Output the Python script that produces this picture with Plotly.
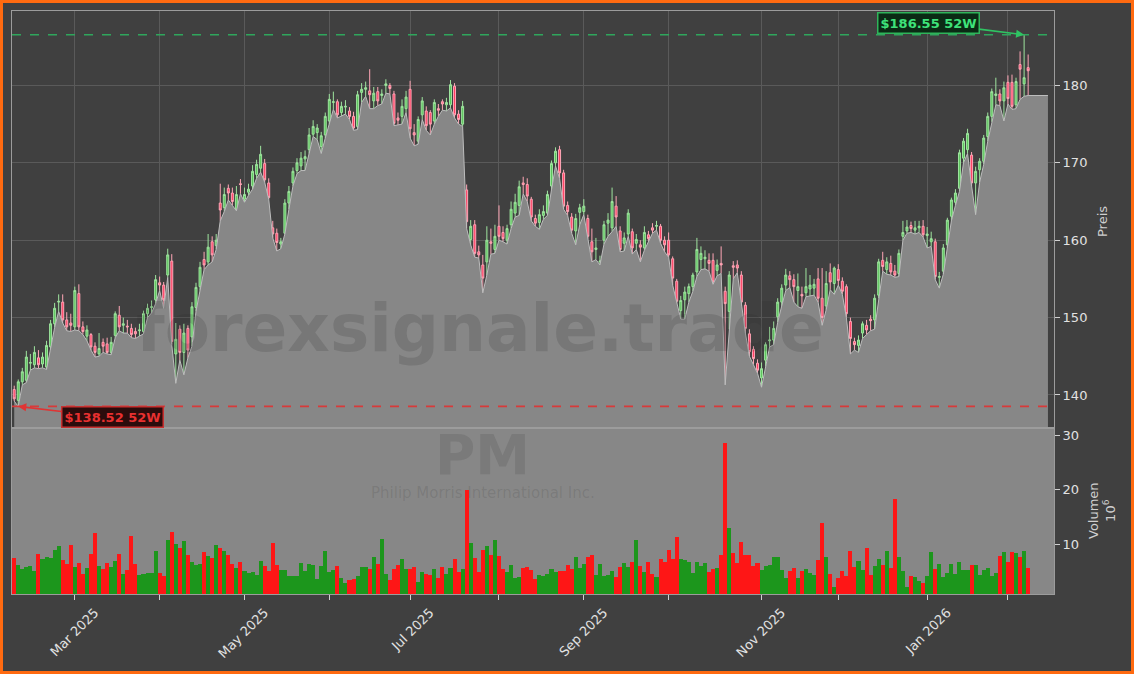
import numpy as np
import pandas as pd
import plotly.graph_objects as go

# ---------------- data ----------------
holidays = ["2025-02-17", "2025-04-18", "2025-05-26", "2025-06-19", "2025-07-04",
            "2025-09-01", "2025-11-27", "2025-12-25", "2026-01-01", "2026-01-19"]
dates = pd.bdate_range("2025-02-07", "2026-02-09", freq="C", holidays=holidays)

opens = [
    140.7, 139.3, 141.7, 141.9, 144.1, 143.9, 144.8, 144.0, 143.6, 146.2,
    149.2, 152.0, 152.0, 149.7, 149.3, 148.8, 153.1, 148.8, 147.6, 147.8,
    146.3, 145.3, 146.8, 146.6, 145.5, 147.7, 150.3, 149.0, 148.9, 148.6,
    148.2, 148.3, 148.2, 150.5, 151.3, 152.3, 154.5, 154.2, 155.5, 157.3,
    145.3, 148.5, 145.5, 148.6, 147.5, 151.3, 154.0, 157.5, 157.2, 159.8,
    159.3, 164.8, 164.2, 166.7, 166.1, 164.0, 167.3, 165.3, 166.2, 167.0,
    168.5, 169.3, 169.9, 167.4, 161.6, 160.9, 159.5, 160.9, 164.8, 167.4,
    169.0, 169.6, 170.5, 171.7, 173.7, 173.9, 172.1, 173.6, 175.4, 177.8,
    177.9, 176.5, 177.2, 176.7, 176.0, 174.7, 179.1, 179.5, 179.3, 178.0,
    179.2, 178.7, 180.0, 180.0, 178.9, 175.8, 176.0, 177.0, 179.5, 173.9,
    172.8, 176.2, 176.7, 176.5, 175.4, 177.0, 177.9, 177.5, 177.5, 179.9,
    176.3, 175.0, 166.5, 160.1, 162.0, 158.5, 156.8, 157.2, 159.8, 158.8,
    161.8, 161.0, 160.0, 162.0, 163.5, 164.5, 167.4, 167.2, 165.3, 162.8,
    162.3, 163.2, 163.5, 167.0, 170.0, 171.7, 168.7, 164.5, 163.0, 161.2,
    163.6, 163.7, 162.8, 159.8, 158.8, 157.2, 160.0, 162.2, 161.6, 164.4,
    161.2, 159.6, 160.8, 161.1, 159.6, 159.4, 159.0, 160.7, 161.6, 161.8,
    161.8, 160.0, 160.0, 157.6, 154.7, 150.9, 152.3, 153.1, 154.0, 155.9,
    157.5, 157.6, 157.4, 157.4, 156.1, 157.0, 153.4, 150.8, 156.7, 156.8,
    155.5, 151.6, 147.9, 145.9, 144.1, 142.2, 144.5, 147.0, 147.1, 150.1,
    152.0, 154.2, 155.4, 154.9, 153.5, 153.0, 153.2, 153.7, 153.8, 155.0,
    152.5, 151.5, 155.8, 154.4, 156.2, 154.7, 154.0, 149.5, 146.9, 146.4,
    148.0, 149.0, 149.8, 149.7, 152.9, 157.4, 156.2, 157.0, 156.0, 155.7,
    160.5, 161.2, 161.9, 161.3, 161.6, 161.8, 160.6, 159.8, 159.8, 155.2,
    156.0, 159.4, 163.1, 164.9, 166.7, 170.6, 171.7, 171.0, 167.4, 169.1,
    170.2, 173.4, 176.0, 178.7, 178.9, 178.0, 180.4, 180.4, 177.5, 182.7,
    180.2, 182.3,
]
highs = [
    141.2, 142.0, 143.5, 145.7, 145.3, 146.3, 145.8, 145.5, 147.0, 149.7,
    151.9, 153.0, 153.0, 150.7, 150.5, 154.0, 154.3, 149.5, 149.0, 148.0,
    146.8, 148.0, 147.3, 147.4, 147.5, 150.8, 151.5, 150.0, 149.7, 149.2,
    148.7, 149.2, 150.9, 151.8, 152.2, 155.5, 155.3, 154.6, 158.9, 158.2,
    149.3, 149.0, 149.2, 149.0, 152.0, 154.5, 157.2, 158.5, 160.8, 160.5,
    160.8, 167.3, 166.8, 167.2, 166.8, 167.0, 167.9, 166.8, 167.3, 169.7,
    170.4, 172.2, 170.5, 168.0, 162.5, 161.5, 160.3, 165.3, 167.0, 169.4,
    170.6, 171.4, 171.6, 174.5, 175.5, 175.0, 174.0, 176.5, 178.9, 179.2,
    178.2, 177.9, 178.1, 177.2, 176.6, 179.3, 180.3, 180.5, 182.1, 179.8,
    179.8, 179.5, 180.8, 180.3, 179.3, 176.5, 178.2, 179.3, 180.6, 175.0,
    176.0, 178.5, 177.3, 176.8, 178.2, 177.6, 178.2, 178.4, 180.7, 180.3,
    176.8, 178.0, 167.2, 162.6, 162.6, 159.3, 158.1, 161.8, 161.5, 162.0,
    164.5, 161.8, 162.0, 165.0, 166.0, 167.7, 168.2, 168.0, 165.6, 163.3,
    164.0, 164.5, 166.4, 170.3, 172.0, 172.2, 169.1, 165.0, 163.5, 163.4,
    164.7, 165.3, 163.3, 161.5, 160.3, 158.0, 162.5, 163.5, 166.8, 165.7,
    161.8, 161.0, 164.0, 161.5, 160.8, 160.0, 161.8, 161.2, 162.2, 162.5,
    162.1, 160.5, 161.0, 157.9, 155.0, 152.8, 154.0, 154.4, 155.8, 160.3,
    159.2, 158.7, 158.3, 158.3, 157.5, 159.2, 154.0, 156.0, 157.3, 157.4,
    156.0, 152.0, 148.5, 146.3, 144.6, 144.2, 146.8, 148.8, 149.5, 152.5,
    154.3, 156.3, 156.0, 155.6, 155.7, 154.0, 156.4, 155.5, 155.0, 156.4,
    156.4, 156.0, 157.0, 156.6, 156.9, 155.2, 154.3, 150.0, 147.4, 147.7,
    149.5, 149.7, 150.3, 153.0, 157.6, 158.5, 157.8, 158.0, 156.8, 158.8,
    162.5, 162.6, 162.4, 162.5, 162.5, 162.6, 161.7, 161.1, 160.2, 155.9,
    159.5, 162.9, 165.5, 166.6, 171.7, 173.2, 174.4, 171.4, 169.5, 170.6,
    173.6, 176.5, 179.6, 181.0, 179.5, 180.5, 181.3, 181.4, 181.0, 184.4,
    186.55, 184.0,
]
lows = [
    139.2, 138.52, 141.3, 141.6, 143.2, 143.5, 143.4, 143.5, 143.3, 146.0,
    148.7, 150.8, 149.3, 148.3, 148.2, 148.4, 148.3, 147.8, 147.0, 145.8,
    144.9, 145.0, 145.5, 145.3, 145.2, 147.4, 148.3, 148.0, 148.0, 147.4,
    147.3, 147.6, 147.9, 150.0, 150.6, 151.8, 153.5, 151.2, 155.2, 146.5,
    141.5, 144.5, 142.6, 144.8, 146.3, 150.8, 153.5, 156.2, 156.8, 157.2,
    158.8, 162.5, 163.7, 165.2, 164.5, 163.8, 166.0, 164.9, 165.8, 166.6,
    168.0, 168.8, 167.5, 165.3, 160.3, 158.6, 158.9, 160.8, 164.0, 167.0,
    168.6, 169.0, 169.0, 171.2, 173.4, 173.0, 171.2, 173.2, 175.0, 176.9,
    175.8, 176.0, 176.3, 175.6, 174.2, 174.3, 177.8, 178.6, 177.0, 177.0,
    177.4, 177.6, 179.0, 178.9, 174.8, 174.9, 175.0, 176.5, 173.2, 172.2,
    172.4, 175.6, 174.2, 173.6, 175.0, 176.0, 176.8, 176.7, 177.1, 175.8,
    175.0, 174.7, 161.5, 159.4, 157.8, 157.7, 153.2, 155.5, 158.2, 158.3,
    160.0, 159.8, 159.5, 161.5, 163.0, 163.2, 166.0, 165.0, 162.5, 161.8,
    161.4, 162.7, 163.2, 166.5, 169.6, 168.0, 164.0, 163.2, 160.9, 159.4,
    162.0, 163.3, 160.2, 157.2, 157.5, 156.8, 159.5, 160.5, 161.1, 161.8,
    158.5, 158.6, 160.5, 158.2, 158.8, 157.2, 158.7, 159.9, 160.9, 161.3,
    159.6, 158.5, 157.8, 154.2, 151.8, 149.8, 149.8, 152.0, 153.4, 155.3,
    156.2, 156.3, 156.0, 154.3, 155.4, 155.7, 141.3, 148.5, 155.0, 155.8,
    151.5, 148.0, 145.0, 144.0, 142.8, 141.0, 143.7, 146.2, 146.5, 149.4,
    151.5, 153.5, 153.9, 152.0, 151.4, 151.2, 152.7, 152.8, 152.9, 152.0,
    149.0, 151.0, 153.6, 153.0, 154.2, 153.0, 150.0, 145.3, 145.8, 145.5,
    147.3, 147.8, 148.3, 148.5, 152.5, 156.0, 155.6, 155.5, 155.2, 155.3,
    160.0, 160.9, 161.0, 160.8, 161.0, 160.4, 159.0, 159.2, 154.9, 153.8,
    155.6, 159.0, 162.5, 164.5, 166.3, 170.0, 171.2, 167.0, 163.3, 167.5,
    169.8, 172.8, 175.3, 177.5, 177.4, 175.4, 177.6, 176.9, 177.0, 178.2,
    178.6, 178.7,
]
closes = [
    139.5, 141.7, 143.0, 144.9, 144.2, 145.5, 143.9, 144.9, 146.4, 149.2,
    151.2, 152.1, 149.7, 148.8, 149.0, 153.5, 148.8, 148.2, 148.4, 146.2,
    145.5, 146.0, 146.3, 145.5, 146.8, 150.5, 148.8, 149.2, 148.8, 147.8,
    147.9, 148.4, 150.5, 151.2, 151.4, 154.9, 154.2, 152.3, 158.1, 146.9,
    147.2, 145.5, 148.0, 145.8, 151.4, 153.9, 156.5, 156.8, 159.1, 158.1,
    160.0, 163.9, 165.9, 166.1, 165.0, 165.9, 167.2, 165.9, 166.6, 168.9,
    169.8, 171.1, 167.8, 165.5, 160.8, 159.7, 159.8, 164.8, 166.3, 168.9,
    170.0, 170.6, 170.8, 173.6, 174.7, 174.5, 173.5, 176.0, 178.2, 177.9,
    176.2, 177.3, 177.3, 176.0, 174.5, 178.8, 179.5, 179.7, 178.8, 179.0,
    178.0, 178.9, 180.2, 179.6, 175.1, 175.5, 177.3, 178.5, 174.4, 173.6,
    175.6, 178.0, 174.8, 175.0, 177.8, 176.8, 177.6, 177.8, 180.1, 176.2,
    175.6, 177.3, 162.4, 161.8, 158.3, 158.1, 155.1, 160.0, 159.6, 160.5,
    160.5, 160.2, 161.5, 164.0, 164.9, 166.9, 167.2, 165.7, 163.0, 162.2,
    163.3, 163.7, 165.9, 169.9, 171.5, 168.7, 164.4, 163.7, 161.3, 162.8,
    164.2, 164.4, 160.5, 158.5, 159.0, 157.3, 162.0, 162.6, 165.0, 163.0,
    158.8, 160.3, 163.5, 159.0, 160.1, 159.1, 161.0, 160.2, 161.3, 161.9,
    160.0, 159.4, 158.1, 155.1, 152.1, 152.2, 153.3, 154.0, 155.5, 158.8,
    158.3, 157.8, 157.0, 154.6, 156.8, 156.8, 151.8, 155.5, 156.5, 156.4,
    152.0, 148.6, 145.6, 144.7, 143.2, 143.4, 146.5, 147.1, 148.6, 152.0,
    153.8, 155.5, 154.9, 154.0, 154.0, 152.8, 154.0, 154.2, 154.3, 152.5,
    150.0, 154.4, 154.6, 156.4, 154.8, 153.4, 150.5, 147.3, 146.5, 147.1,
    149.2, 148.4, 149.6, 152.5, 157.2, 156.6, 157.2, 155.9, 155.5, 158.3,
    161.0, 161.7, 161.5, 161.6, 161.8, 160.7, 160.8, 160.2, 155.3, 155.3,
    159.0, 162.6, 165.2, 166.1, 171.3, 172.8, 173.8, 167.4, 168.9, 170.2,
    173.2, 176.0, 179.2, 178.9, 178.0, 179.7, 178.3, 177.3, 180.5, 182.1,
    181.0, 181.9,
]
volume_mio = [
    7.5, 6.2, 5.4, 5.7, 6.0, 5.05, 8.2, 7.3, 7.6, 7.5,
    8.9, 9.6, 7.1, 6.3, 9.8, 5.8, 6.5, 4.5, 5.6, 8.2,
    12.0, 6.0, 5.4, 6.5, 5.85, 6.9, 8.2, 4.5, 5.3, 11.5,
    6.35, 4.25, 4.5, 4.7, 4.7, 8.7, 4.7, 4.2, 10.7, 12.2,
    10.1, 9.3, 10.6, 8.05, 6.7, 6.2, 6.4, 8.5, 7.8, 7.4,
    9.8, 9.3, 8.8, 8.05, 6.35, 5.6, 6.7, 5.05, 4.6, 4.8,
    4.3, 6.9, 6.0, 5.05, 10.2, 6.1, 5.3, 5.3, 4.1, 4.1,
    4.1, 6.5, 5.05, 6.35, 6.2, 3.65, 6.0, 8.7, 4.9, 5.3,
    6.0, 3.8, 2.8, 3.4, 3.6, 4.1, 5.8, 5.8, 5.4, 7.6, 6.35,
    10.9, 4.5, 3.4, 5.4, 6.2, 7.3, 5.4, 5.4, 5.8, 3.0,
    4.9, 4.5, 4.3, 5.4, 3.8, 5.8, 4.5, 5.6, 7.3, 4.9,
    5.4, 19.9, 10.2, 7.4, 4.9, 8.9, 9.6, 8.0, 10.7, 7.8,
    5.4, 4.9, 6.2, 3.8, 4.0, 5.6, 5.8, 5.3, 3.6, 4.3,
    4.1, 4.5, 5.4, 4.9, 5.05, 5.05, 6.2, 5.4, 7.6, 5.6,
    6.35, 7.6, 8.0, 4.3, 6.35, 4.1, 4.3, 5.05, 4.0, 5.8,
    6.5, 5.8, 6.7, 10.7, 6.0, 4.9, 6.7, 4.5, 4.0, 7.3,
    6.7, 8.9, 7.3, 11.3, 7.3, 7.1, 6.7, 4.7, 6.7, 6.0,
    6.5, 4.9, 5.4, 5.6, 8.0, 28.6, 12.9, 8.4, 6.5, 10.4,
    8.0, 8.0,
    6.0, 6.5, 5.3, 6.0, 6.2, 7.6, 7.6, 5.3, 3.8, 5.05,
    5.6, 3.8, 5.05, 5.4, 4.7, 4.3, 7.1, 13.9, 7.6, 4.5,
    2.1, 3.8, 5.05, 4.1, 8.7, 5.8, 6.9, 5.3, 9.3, 4.3,
    6.0, 7.3, 6.2, 8.7, 5.6, 18.3, 7.6, 5.05, 2.1, 4.1,
    4.0, 3.2, 2.8, 4.1, 8.5, 5.4, 6.35, 4.0, 4.7, 6.35,
    4.5, 6.7, 5.3, 5.3, 6.2, 6.2, 4.3, 5.3, 5.6, 4.1,
    4.7, 7.8, 8.5, 6.7, 8.5, 8.4, 7.6, 8.7, 5.6,
]

ticker = "PM"
company = "Philip Morris International Inc."
watermark = "forexsignale.trade"
price_ticks = [140, 150, 160, 170, 180]
volume_ticks = [10, 20, 30]

# ---------------- derived ----------------
n = len(closes)
assert len(dates) == n == len(opens) == len(highs) == len(lows) == len(volume_mio)
idx = np.arange(n)

hi_i = int(np.argmax(highs))
lo_i = int(np.argmin(lows))
hi_v = highs[hi_i]
lo_v = lows[lo_i]

# month tick positions (first trading day of each full month)
month_pos, month_lbl = [], []
prev = dates[0].month
for i, d in enumerate(dates):
    if d.month != prev:
        month_pos.append(i)
        month_lbl.append(d.strftime("%b %Y"))
    prev = d.month
major_pos = month_pos[0::2]
major_lbl = month_lbl[0::2]
minor_pos = month_pos[1::2]

# area (low series, forward filled a few sessions past the end)
pad = 4.9
area_x = list(idx) + [n - 1 + pad]
area_y = list(lows) + [lows[-1]]

vol_colors = ["#1c961c" if c >= o else "#fe1616" for o, c in zip(opens, closes)]

FONT = "DejaVu Sans"
TXT = "#e2e2e2"
BG = "#404040"
GRID = "#5a5a5a"
FRAME = "#9c9c9c"
split = (594 - 428) / 583.0

fig = go.Figure()

fig.add_trace(go.Scatter(
    x=area_x, y=area_y, mode="lines", fill="tozeroy",
    fillcolor="#878787", line=dict(color="#bdbdbd", width=1),
    xaxis="x", yaxis="y", hoverinfo="skip", showlegend=False))

fig.add_trace(go.Candlestick(
    x=idx, open=opens, high=highs, low=lows, close=closes,
    increasing=dict(line=dict(color="#9ee49e", width=1), fillcolor="#5cc45c"),
    decreasing=dict(line=dict(color="#ffa6b6", width=1), fillcolor="#ff3c60"),
    whiskerwidth=0, xaxis="x", yaxis="y", showlegend=False))

fig.add_trace(go.Bar(
    x=idx, y=volume_mio, marker=dict(color=vol_colors, line=dict(width=0)),
    width=1.0, xaxis="x2", yaxis="y2", showlegend=False))

xr = [-0.55, 257.4]
fig.update_layout(
    width=1134, height=674,
    margin=dict(l=12, r=80, t=11, b=80),
    paper_bgcolor=BG, plot_bgcolor=BG,
    font=dict(family=FONT, size=13, color=TXT),
    showlegend=False, bargap=0,
    xaxis=dict(domain=[0, 1], anchor="y", range=xr, tickvals=month_pos,
               showticklabels=False, showgrid=True, gridcolor=GRID,
               gridwidth=1, showline=True, mirror=True, linecolor=FRAME,
               zeroline=False, ticks="", rangeslider=dict(visible=False)),
    yaxis=dict(domain=[split, 1], anchor="x", side="right", range=[135.73, 189.62],
               tickvals=price_ticks, showgrid=True, gridcolor=GRID, gridwidth=1,
               showline=True, mirror=True, linecolor=FRAME, zeroline=False,
               ticks="outside", ticklen=5, tickcolor="#d0d0d0",
               tickfont=dict(size=13, color=TXT)),
    xaxis2=dict(domain=[0, 1], anchor="y2", matches="x", range=xr, tickvals=major_pos,
                ticktext=major_lbl, tickangle=-45, ticklabelshift=20,
                showgrid=False, showline=True, mirror=True, linecolor=FRAME,
                zeroline=False, ticks="outside", ticklen=5, tickcolor="#d0d0d0",
                tickfont=dict(size=13, color=TXT),
                minor=dict(tickvals=minor_pos, ticks="outside", ticklen=5,
                           tickcolor="#d0d0d0", showgrid=False)),
    yaxis2=dict(domain=[0, split], anchor="x2", side="right", range=[0.83, 31.3],
                tickvals=volume_ticks, showgrid=False, showline=True, mirror=True,
                linecolor=FRAME, zeroline=False, ticks="outside", ticklen=5,
                tickcolor="#d0d0d0", tickfont=dict(size=13, color=TXT)),
)

# volume panel background
fig.add_shape(type="rect", xref="x2 domain", yref="y2 domain", x0=0, x1=1, y0=0, y1=1,
              fillcolor="#878787", line=dict(width=0), layer="below")

# 52-week lines
fig.add_shape(type="line", xref="x domain", yref="y", x0=0, x1=1, y0=hi_v, y1=hi_v,
              line=dict(color="#2fa65c", width=1.6, dash="dash"))
fig.add_shape(type="line", xref="x domain", yref="y", x0=0, x1=1, y0=lo_v, y1=lo_v,
              line=dict(color="#d83a3a", width=1.6, dash="dash"))

# watermarks
fig.add_annotation(text="<b>" + watermark + "</b>", xref="paper", yref="paper",
                   x=0.449, y=(594 - 328) / 583,
                   showarrow=False, font=dict(family=FONT, size=66, color="rgba(40,40,40,0.17)"),
                   xanchor="center", yanchor="middle")
fig.add_annotation(text="<b>" + ticker + "</b>", xref="paper", yref="paper", x=0.452,
                   y=(594 - 455) / 583, showarrow=False,
                   font=dict(family=FONT, size=55, color="rgba(40,40,40,0.14)"),
                   xanchor="center", yanchor="middle")
fig.add_annotation(text=company, xref="paper", yref="paper", x=0.452, y=(594 - 493) / 583,
                   showarrow=False, font=dict(family=FONT, size=15, color="rgba(40,40,40,0.14)"),
                   xanchor="center", yanchor="middle")

# 52W annotations
fig.add_annotation(x=hi_i, y=hi_v, xref="x", yref="y",
                   text="<b>$%.2f 52W</b>" % hi_v, showarrow=True, ax=-96, ay=-12,
                   arrowhead=2, arrowsize=1, arrowwidth=1.6, arrowcolor="#2fc463",
                   font=dict(family=FONT, size=13, color="#3ee27a"),
                   bgcolor="#0b2a15", bordercolor="#2fb45a", borderwidth=1.5, borderpad=2)
fig.add_annotation(x=lo_i, y=lo_v, xref="x", yref="y",
                   text="<b>$%.2f 52W</b>" % lo_v, showarrow=True, ax=94, ay=11,
                   arrowhead=2, arrowsize=1, arrowwidth=1.6, arrowcolor="#e03434",
                   font=dict(family=FONT, size=13, color="#e83030"),
                   bgcolor="#2b0c0c", bordercolor="#c83030", borderwidth=1.5, borderpad=2)

# axis titles
fig.add_annotation(text="Preis", xref="paper", yref="paper", x=(1102 - 12) / 1042,
                   y=(594 - 222) / 583, showarrow=False, textangle=-90,
                   font=dict(family=FONT, size=13, color="#cfcfcf"),
                   xanchor="center", yanchor="middle")
fig.add_annotation(text="Volumen<br>10<sup>6</sup>", xref="paper", yref="paper",
                   x=(1102 - 12) / 1042, y=(594 - 511) / 583, showarrow=False, textangle=-90,
                   font=dict(family=FONT, size=13, color="#cfcfcf"),
                   xanchor="center", yanchor="middle")

# orange frame
fig.add_shape(type="rect", xref="paper", yref="paper",
              x0=(1.5 - 12) / 1042, x1=(1132.5 - 12) / 1042,
              y0=(594 - 672.5) / 583, y1=(594 - 1.5) / 583,
              line=dict(color="#ff6a10", width=3), fillcolor="rgba(0,0,0,0)", layer="above")

fig.write_html("out.html", config={"displayModeBar": False},
               post_script="document.body.style.margin='0';document.body.style.overflow='hidden';")
